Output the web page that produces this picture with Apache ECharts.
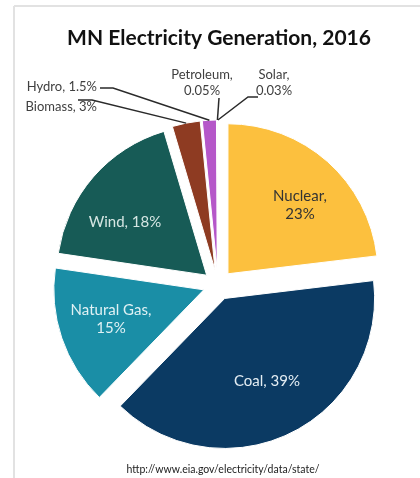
<!DOCTYPE html>
<html>
<head>
<meta charset="utf-8">
<script src="https://cdn.jsdelivr.net/npm/echarts@6/dist/echarts.min.js"></script>
<style>
  html, body { margin: 0; padding: 0; background: #fff; }
  #chart { width: 420px; height: 478px; }
</style>
</head>
<body>
<div id="chart"></div>
<script>
  // MN electricity generation shares, 2016 (percent)
  const sources = ['Nuclear', 'Coal', 'Natural Gas', 'Wind', 'Biomass', 'Hydro', 'Petroleum', 'Solar']
  const shares = [23, 39, 15, 18, 3, 1.5, 0.05, 0.03]
  const colors = ['#fcc03e', '#0b3a63', '#1a8ea6', '#175b56', '#8e3b22', '#b557c9', '#d8d8d8', '#cfcfcf']

  // labels split on two lines
  const wrapped = ['Nuclear', 'Natural Gas', 'Petroleum', 'Solar']
  // where each label sits (and leader line elbows for the small slices)
  const labelSpots = {
    'Nuclear': { x: 300, y: 205, color: '#333', size: 15 },
    'Coal': { x: 267, y: 381, color: '#e4edf3', size: 15 },
    'Natural Gas': { x: 111, y: 319, color: '#e0f1f4', size: 15 },
    'Wind': { x: 125, y: 222, color: '#d6e6e3', size: 15 },
    'Biomass': { x: 97, y: 107, align: 'right', line: [[92, 100], [78, 100]] },
    'Hydro': { x: 97, y: 87, align: 'right', line: [[113, 88], [100, 88]] },
    'Petroleum': { x: 202, y: 83, line: [[219, 98]] },
    'Solar': { x: 274, y: 83, line: [[248, 97], [258, 97]] }
  }
  const explode = 15

  const chart = echarts.init(document.getElementById('chart'))

  chart.setOption({
    animation: false,
    series: [
      {
        type: 'pie',
        center: [218, 285],
        radius: 150,
        startAngle: 90,
        clockwise: true,
        selectedMode: 'multiple',
        selectedOffset: explode,
        itemStyle: { borderColor: '#fff', borderWidth: 1 },
        emphasis: { disabled: true },
        label: { show: false },
        labelLine: { show: false },
        data: sources.map((name, i) => ({
          name: name,
          value: shares[i],
          selected: true,
          itemStyle: { color: colors[i] }
        }))
      }
    ]
  })

  // labels + leader lines, anchored on the laid-out slices
  const pieData = chart.getModel().getSeriesByIndex(0).getData()
  const graphics = [
    { type: 'line', z: 10, shape: { x1: 14, y1: 6, x2: 420, y2: 6 }, style: { stroke: '#e2e2e2', lineWidth: 2 } },
    { type: 'line', z: 10, shape: { x1: 14, y1: 6, x2: 14, y2: 478 }, style: { stroke: '#e2e2e2', lineWidth: 2 } },
    {
      type: 'text', z: 10, x: 219, y: 38,
      style: {
        text: 'MN Electricity Generation, 2016', fill: '#111',
        font: 'bold 21px Lato', align: 'center', verticalAlign: 'middle'
      }
    },
    {
      type: 'text', z: 10, x: 223, y: 470,
      style: {
        text: 'http://www.eia.gov/electricity/data/state/', fill: '#222',
        font: '10.5px Lato', align: 'center', verticalAlign: 'middle'
      }
    }
  ]

  sources.forEach((name, i) => {
    const spot = labelSpots[name]
    const size = spot.size || 13
    graphics.push({
      type: 'text', z: 10, x: spot.x, y: spot.y,
      style: {
        text: name + ',' + (wrapped.indexOf(name) > -1 ? '\n' : ' ') + shares[i] + '%',
        fill: spot.color || '#404040',
        font: size + 'px Lato',
        lineHeight: size + 3,
        align: spot.align || 'center',
        verticalAlign: 'middle'
      }
    })
    if (spot.line) {
      const lay = pieData.getItemLayout(i)
      const mid = (lay.startAngle + lay.endAngle) / 2
      const rr = lay.r + explode
      const anchor = [lay.cx + Math.cos(mid) * rr, lay.cy + Math.sin(mid) * rr]
      graphics.push({
        type: 'polyline', z: 10,
        shape: { points: [anchor].concat(spot.line) },
        style: { stroke: '#2a2a2a', lineWidth: 1.5, fill: null }
      })
    }
  })

  chart.setOption({ graphic: graphics })
</script>
</body>
</html>
